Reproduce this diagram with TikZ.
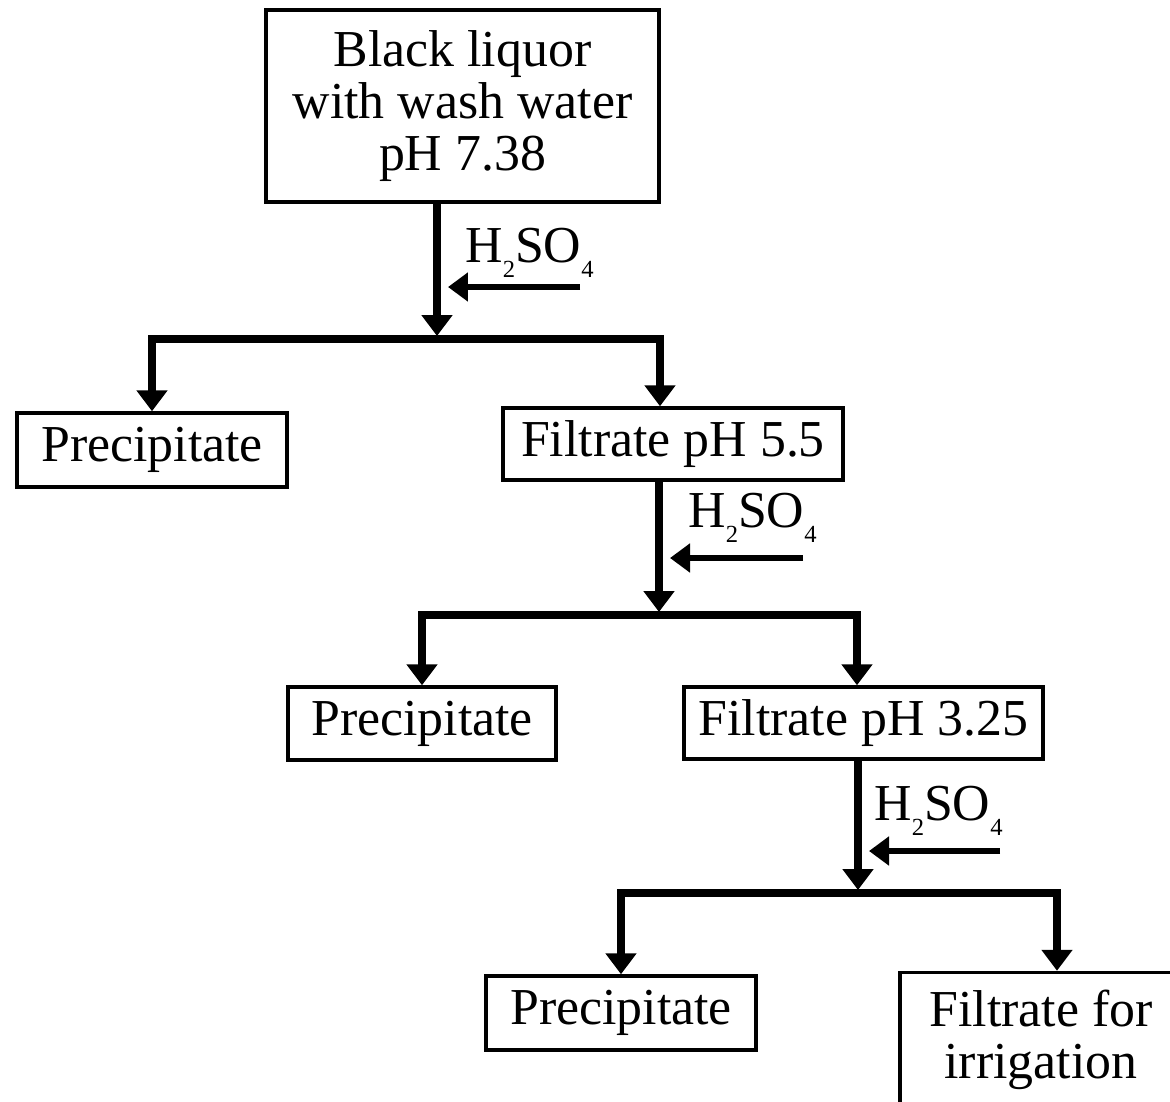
\documentclass[tikz,border=0pt]{standalone}
\usepackage{fontspec}
\setmainfont{Liberation Serif}
\usetikzlibrary{arrows.meta,positioning}
\newcommand{\lowsub}[1]{\raisebox{-0.3em}{\fontsize{14pt}{14pt}\selectfont #1}}
\newcommand{\acid}{H\lowsub{2}SO\lowsub{4}}
\tikzset{
  basic/.style  = {draw, line width=2pt, rectangle, inner sep=0pt, align=center,
  font=\fontsize{29.5pt}{29.5pt}\selectfont},
  reagent/.style = {anchor=base west, inner sep=0pt, font=\fontsize{29.5pt}{29.5pt}\selectfont},
  flow/.style = {line width=4pt, -{Triangle[width=0.6cm,length=0.42cm]}},
  split/.style = {line width=4pt, {Triangle[width=0.6cm,length=0.42cm]}-{Triangle[width=0.6cm,length=0.42cm]}},
  feed/.style = {line width=3.6pt, -{Triangle[width=0.56cm,length=0.4cm]}, shorten >=0.22cm}
}
\begin{document}
\begin{tikzpicture}[x=0.02cm, y=-0.02cm]
\clip (0,0) rectangle (1170,1102);
% the boxes
\node [basic, minimum width=7.86cm, minimum height=3.84cm] (start) at (462.5,106) {Black liquor\\with wash water\\pH 7.38};
\node [basic, minimum width=5.4cm, minimum height=1.48cm] (c1) at (152,450) {Precipitate};
\node [basic, minimum width=6.8cm, minimum height=1.44cm] (c2) at (673,444) {Filtrate pH 5.5};
\node [basic, minimum width=5.36cm, minimum height=1.46cm] (c21) at (422,723.5) {Precipitate};
\node [basic, minimum width=7.18cm, minimum height=1.44cm] (c22) at (863.5,723) {Filtrate pH 3.25};
\node [basic, minimum width=5.4cm, minimum height=1.48cm] (c221) at (621,1013) {Precipitate};
\node [basic, minimum width=5.64cm, minimum height=2.7cm] (c222) at (1041,1040) {Filtrate for\\irrigation};
% acid added at each step
\node [reagent] (h1) at (465,262) {\acid};
\node [reagent] (h2) at (688,527) {\acid};
\node [reagent] (h3) at (874,820) {\acid};
% junction points
\coordinate (s1) at (437,336);
\coordinate (b1) at (660,339);
\coordinate (a1) at (580,287);
\coordinate (s2) at (659,612);
\coordinate (b2) at (857,615);
\coordinate (a2) at (803,558);
\coordinate (s3) at (858,890);
\coordinate (b3) at (1057,893);
\coordinate (a3) at (1000,851);
% first step
\draw [flow] (start.south -| s1) -- (s1);
\draw [feed] (a1) -- (a1 -| s1);
\draw [split] (c1.north) |- (b1) -- (b1 |- c2.north);
% second step
\draw [flow] (c2.south -| s2) -- (s2);
\draw [feed] (a2) -- (a2 -| s2);
\draw [split] (c21.north) |- (b2) -- (b2 |- c22.north);
% third step
\draw [flow] (c22.south -| s3) -- (s3);
\draw [feed] (a3) -- (a3 -| s3);
\draw [split] (c221.north) |- (b3) -- (b3 |- c222.north);
\end{tikzpicture}
\end{document}
